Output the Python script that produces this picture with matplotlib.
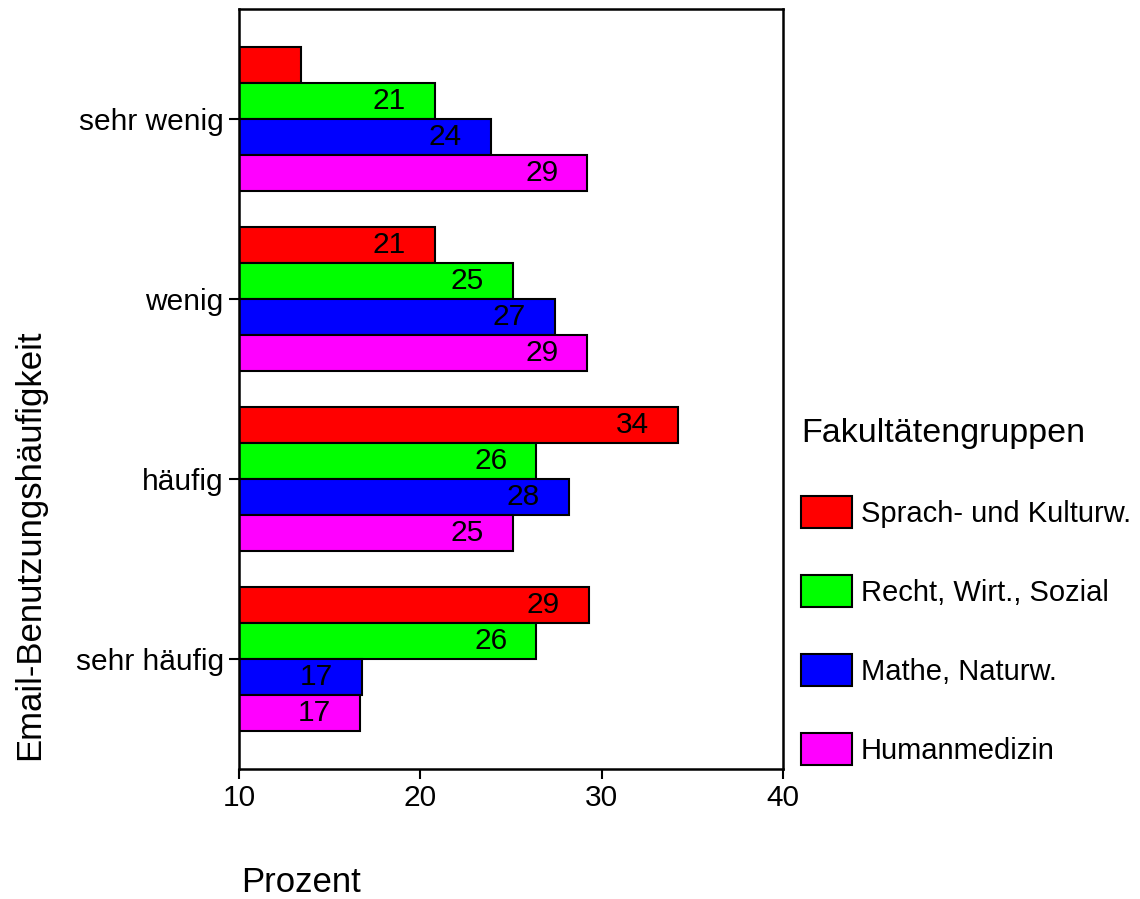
import matplotlib
matplotlib.use("Agg")
import matplotlib.pyplot as plt
import numpy as np

plt.rcParams["font.family"] = ["Liberation Sans", "DejaVu Sans"]

# Daten
categories = ["sehr wenig", "wenig", "häufig", "sehr häufig"]
groups = ["Sprach- und Kulturw.", "Recht, Wirt., Sozial", "Mathe, Naturw.", "Humanmedizin"]
sprach = [13.4, 20.8, 34.2, 29.3]
recht = [20.8, 25.1, 26.4, 26.4]
mathe = [23.9, 27.4, 28.2, 16.8]
human = [29.2, 29.2, 25.1, 16.7]
colors = ["#ff0000", "#00ff00", "#0000ff", "#ff00ff"]

series = [sprach, recht, mathe, human]

W, H = 1140, 899
fig = plt.figure(figsize=(W / 100, H / 100), dpi=100)
ax = fig.add_axes([239 / W, 1 - 769 / H, (783 - 239) / W, (769 - 9) / H])

y = np.arange(len(categories))
h = 0.2
for j, (vals, col, name) in enumerate(zip(series, colors, groups)):
    pos = y + (j - 1.5) * h
    ax.barh(pos, np.array(vals) - 10, left=10, height=h, color=col,
            edgecolor="black", linewidth=1.5, label=name)
    # Beschriftung innerhalb des Balkens (zu kurze Balken ohne Zahl)
    for p, v in zip(pos, vals):
        if v >= 15:
            ax.text(v - 1.6, p, f"{v:.0f}", ha="right", va="center", fontsize=21.5)

ax.set_xlim(10, 40)
ax.set_ylim(3 + 110 / 180, -110 / 180)
ax.set_xticks([10, 20, 30, 40])
ax.set_yticks(y)
ax.set_yticklabels(categories)
ax.tick_params(labelsize=21.5, length=7, width=1.5, pad=4)
for s in ax.spines.values():
    s.set_linewidth(1.8)

fig.text(30 / W, 1 - 545 / H, "Email-Benutzungshäufigkeit", rotation=90,
         ha="center", va="center", fontsize=25)
fig.text(301 / W, 1 - 892 / H, "Prozent", ha="center", va="baseline", fontsize=25)

leg = ax.legend(loc="upper left", bbox_to_anchor=(801 / W, 1 - 418 / H),
                bbox_transform=fig.transFigure, frameon=False, fontsize=21,
                title="Fakultätengruppen", title_fontsize=24.5, alignment="left",
                handlelength=1.75, handleheight=1.3, labelspacing=1.62,
                handletextpad=0.3, borderpad=0, borderaxespad=0)

plt.savefig("out.png", dpi=100)
